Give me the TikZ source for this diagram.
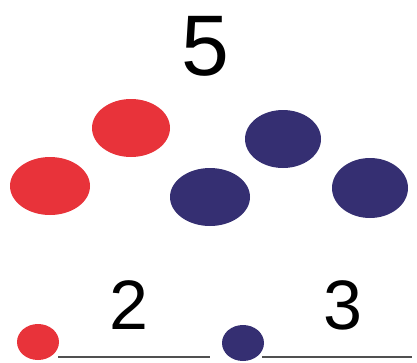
\documentclass[tikz,border=0pt]{standalone}
\usepackage{fontspec}
\setmainfont{Liberation Sans}
\usetikzlibrary{shapes.geometric}
\definecolor{dotred}{HTML}{E8333A}
\definecolor{dotblue}{HTML}{352F72}
\definecolor{linegray}{HTML}{505050}
\begin{document}
\begin{tikzpicture}[x=1pt,y=-1pt,
  bigdot/.style={ellipse,inner sep=0pt,minimum width=78pt,minimum height=58pt},
  smalldot/.style={ellipse,inner sep=0pt,minimum width=42pt,minimum height=36pt},
  digit/.style={inner sep=0pt,text=black},
  baseline/.style={draw=linegray,line width=1.5pt}]
\useasboundingbox (0,0) rectangle (417,362);
\node[digit,font=\fontsize{86}{86}\selectfont] (five) at (205,46) {5};
\node[bigdot,fill=dotred] (r1) at (131,128) {};
\node[bigdot,fill=dotred,minimum width=80pt] (r2) at (50,186) {};
\node[bigdot,fill=dotblue,minimum width=80pt] (b1) at (210,197) {};
\node[bigdot,fill=dotblue,minimum width=76pt] (b2) at (283,139) {};
\node[bigdot,fill=dotblue,minimum width=76pt,minimum height=60pt] (b3) at (370,188) {};
\node[digit,font=\fontsize{70}{70}\selectfont] (two) at (129,305) {2};
\node[digit,font=\fontsize{70}{70}\selectfont] (three) at (343,305) {3};
\coordinate (e1) at (210,357);
\coordinate (e2) at (412,357);
\draw[baseline] (58,357) -- (e1);
\draw[baseline] (262,357) -- (e2);
\node[smalldot,fill=dotred] (sr) at (38,342) {};
\node[smalldot,fill=dotblue] (sb) at (243,343) {};
\end{tikzpicture}
\end{document}
